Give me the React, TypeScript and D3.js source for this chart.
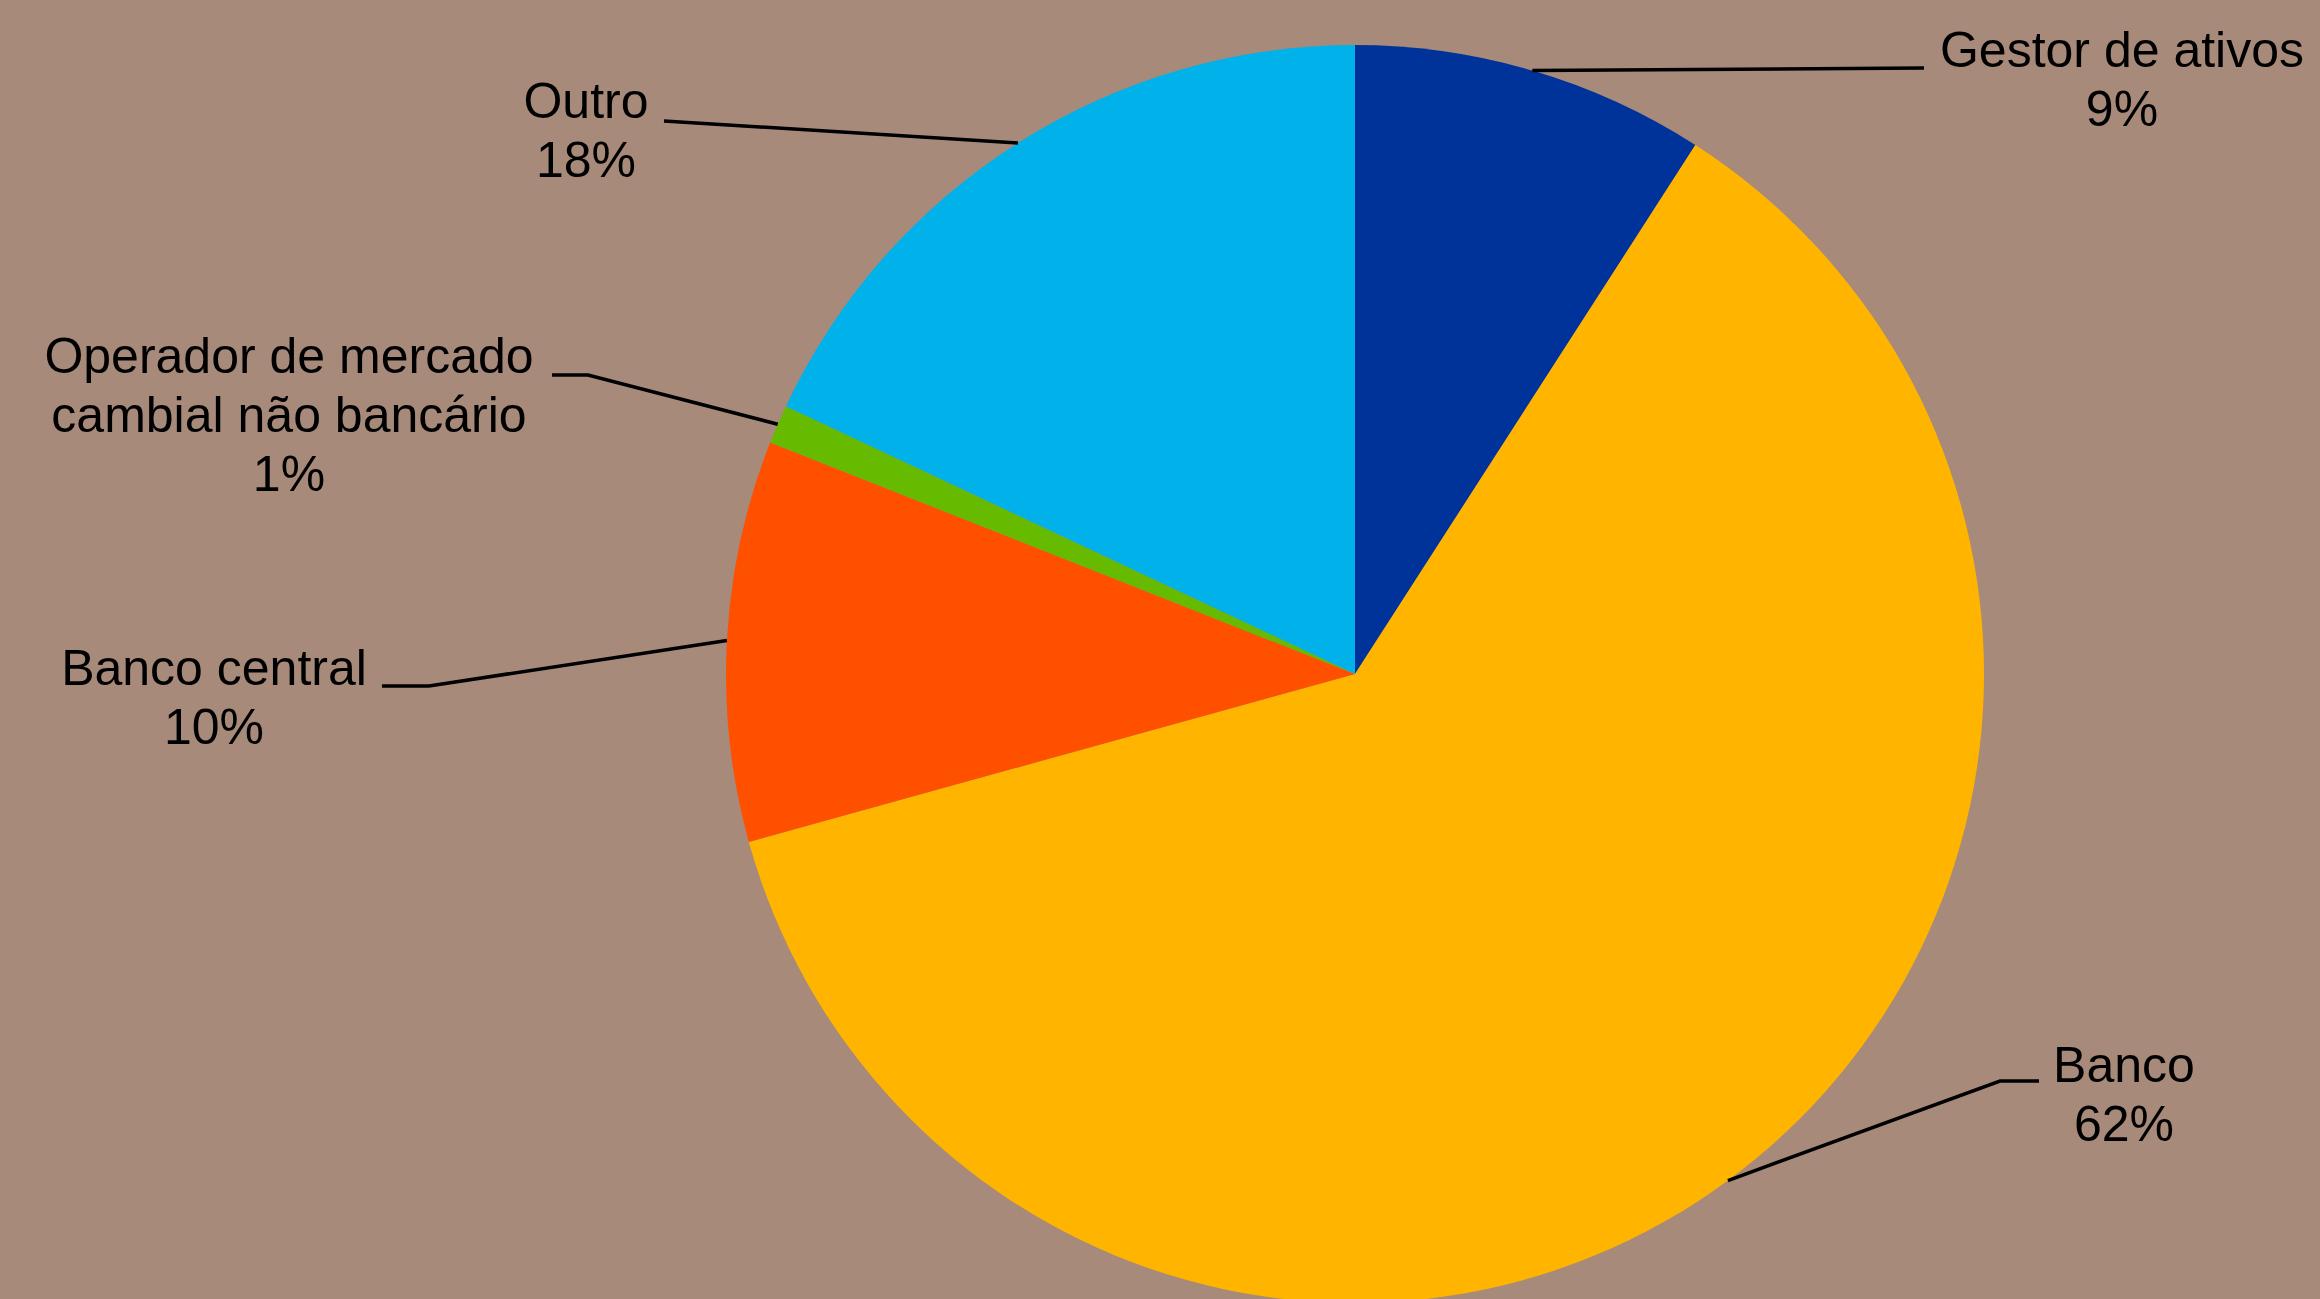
import React from "react";
import * as d3 from "d3";

const categories = [
  "Gestor de ativos",
  "Banco",
  "Banco central",
  "Operador de mercado cambial não bancário",
  "Outro",
];
const labelLines = [
  ["Gestor de ativos"],
  ["Banco"],
  ["Banco central"],
  ["Operador de mercado", "cambial não bancário"],
  ["Outro"],
];
const values = [9.1, 61.6, 10.3, 1.0, 18.0];
const percentLabels = ["9%", "62%", "10%", "1%", "18%"];
const colors = ["#003399", "#FFB400", "#FF5000", "#66BB00", "#00B2E9"];

// label layout (annotation placement): elbow, line end, text centre x, first baseline
const labelLayout = [
  { elbow: [1924, 68], end: [1924, 68], tx: 2122, ty: 67 },
  { elbow: [2000, 1081], end: [2039, 1081], tx: 2124, ty: 1082 },
  { elbow: [429, 686], end: [382, 686], tx: 214, ty: 685 },
  { elbow: [588, 375], end: [552, 375], tx: 289, ty: 373 },
  { elbow: [664, 121], end: [664, 121], tx: 586, ty: 118 },
];

const W = 2320;
const H = 1299;
const CX = 1355;
const CY = 674;
const R = 629;
const LINE_H = 59;

export default function App() {
  const pie = d3
    .pie<number>()
    .sort(null)
    .value((d) => d)
    .startAngle(0)
    .endAngle(2 * Math.PI);
  const arcs = pie(values);
  const arcGen = d3.arc<d3.PieArcDatum<number>>().innerRadius(0).outerRadius(R);

  return (
    <svg
      width={W}
      height={H}
      style={{ position: "fixed", left: 0, top: 0, display: "block" }}
    >
      <rect x={0} y={0} width={W} height={H} fill="#A78A7A" />
      <g transform={`translate(${CX},${CY})`}>
        {arcs.map((a, i) => (
          <path key={categories[i]} d={arcGen(a) || ""} fill={colors[i]} />
        ))}
      </g>
      {arcs.map((a, i) => {
        const mid = (a.startAngle + a.endAngle) / 2;
        const sx = CX + R * Math.sin(mid);
        const sy = CY - R * Math.cos(mid);
        const L = labelLayout[i];
        const lines = [...labelLines[i], percentLabels[i]];
        return (
          <g key={"lbl" + i}>
            <polyline
              points={`${sx},${sy} ${L.elbow[0]},${L.elbow[1]} ${L.end[0]},${L.end[1]}`}
              fill="none"
              stroke="#000"
              strokeWidth={3.5}
            />
            <text
              x={L.tx}
              y={L.ty}
              textAnchor="middle"
              fontFamily="'Liberation Sans', Arial, sans-serif"
              fontSize={50}
              fill="#000"
            >
              {lines.map((t, j) => (
                <tspan key={j} x={L.tx} y={L.ty + j * LINE_H}>
                  {t}
                </tspan>
              ))}
            </text>
          </g>
        );
      })}
    </svg>
  );
}
